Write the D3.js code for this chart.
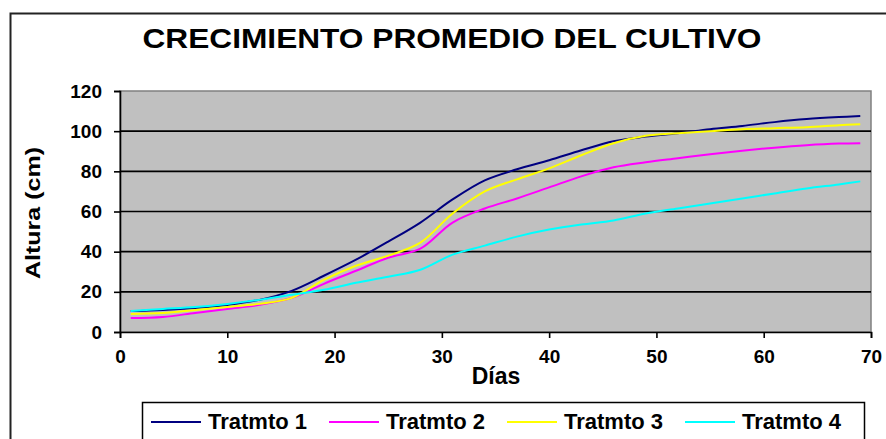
<!DOCTYPE html>
<html>
<head>
<meta charset="utf-8">
<script src="https://cdn.jsdelivr.net/npm/d3@7"></script>
<style>
  body { margin: 0; background: #fff; }
  text { font-family: Arial, "Liberation Sans", sans-serif; font-weight: bold; fill: #000; }
</style>
</head>
<body>
<div id="chart"></div>
<script>
// chart data
var dias = [1, 4, 7, 10, 13, 16, 19, 22, 25, 28, 31, 34, 37, 40, 43, 46, 49, 52, 55, 58, 61, 64, 67, 69];
var tratmto1 = [10.4, 11, 12, 13.5, 16, 20.5, 28, 36, 45, 54.5, 66, 75.5, 81, 85.5, 90.5, 95, 97.3, 99, 101, 102.6, 104.5, 106, 107, 107.5];
var tratmto2 = [7, 7.5, 9.5, 11.5, 13.5, 17, 24, 30.5, 37, 41.5, 54.5, 61.5, 66.5, 72, 77.5, 82, 84.5, 86.5, 88.5, 90.3, 91.8, 93, 93.8, 94];
var tratmto3 = [9, 9.5, 11, 12.5, 14, 17, 26, 33, 38, 44.5, 59, 70, 76, 81.5, 88, 94, 97.7, 99, 100, 101, 101.5, 102, 103, 103.5];
var tratmto4 = [10.5, 11.5, 12.5, 14, 16, 18.5, 21, 24.5, 27.5, 31, 38.5, 43, 47.5, 51, 53.5, 55.5, 59, 61.5, 64, 66.5, 69, 71.5, 73.5, 75];
var seriesNames = ["Tratmto 1", "Tratmto 2", "Tratmto 3", "Tratmto 4"];
var xTicks = [0, 10, 20, 30, 40, 50, 60, 70];
var yTicks = [0, 20, 40, 60, 80, 100, 120];

var colors = ["#000080", "#ff00ff", "#ffff00", "#00ffff"];

// svg params
var svgWidth = 886;
var svgHeight = 439;

// plot area
var plot = { left: 120, top: 91, right: 871, bottom: 332 };

var svg = d3.select("#chart")
  .append("svg")
  .attr("width", svgWidth)
  .attr("height", svgHeight);

// outer frame (runs off right and bottom)
svg.append("rect")
  .attr("x", 10.5).attr("y", 13.5)
  .attr("width", 900).attr("height", 500)
  .attr("fill", "none")
  .attr("stroke", "#222")
  .attr("stroke-width", 2);

// scales
var x = d3.scaleLinear().domain([0, 70]).range([plot.left, plot.right]);
var y = d3.scaleLinear().domain([0, 120]).range([plot.bottom, plot.top]);

// plot background
svg.append("rect")
  .attr("x", plot.left).attr("y", plot.top)
  .attr("width", plot.right - plot.left).attr("height", plot.bottom - plot.top)
  .attr("fill", "#c0c0c0")
  .attr("stroke", "#808080")
  .attr("stroke-width", 1.5);

// gridlines
svg.append("g")
  .selectAll("line")
  .data(yTicks.filter(d => d > 0 && d < 120))
  .enter()
  .append("line")
  .attr("x1", plot.left).attr("x2", plot.right)
  .attr("y1", d => y(d)).attr("y2", d => y(d))
  .attr("stroke", "#000")
  .attr("stroke-width", 1.6);

// axes
var bottomAxis = d3.axisBottom(x).tickValues(xTicks).tickSize(6).tickPadding(12);
var leftAxis = d3.axisLeft(y).tickValues(yTicks).tickSize(6).tickPadding(12);

var gx = svg.append("g")
  .attr("transform", `translate(0, ${plot.bottom})`)
  .call(bottomAxis);
var gy = svg.append("g")
  .attr("transform", `translate(${plot.left}, 0)`)
  .call(leftAxis);

[gx, gy].forEach(function(g){
  g.select(".domain").attr("stroke", "#000").attr("stroke-width", 1.6);
  g.selectAll(".tick line").attr("stroke", "#000").attr("stroke-width", 1.6);
  g.selectAll(".tick text").style("font-size", "19px").attr("fill", "#000");
});
gx.selectAll(".tick text").attr("dy", "0.71em");

// lines
var allSeries = [tratmto1, tratmto2, tratmto3, tratmto4];
var line = d3.line()
  .x((d, i) => x(dias[i]))
  .y(d => y(d))
  .curve(d3.curveCatmullRom);

svg.append("g")
  .selectAll("path")
  .data(allSeries)
  .enter()
  .append("path")
  .attr("d", line)
  .attr("fill", "none")
  .attr("stroke", (d, i) => colors[i])
  .attr("stroke-width", 2);

// title
svg.append("text")
  .attr("x", 452).attr("y", 48)
  .attr("text-anchor", "middle")
  .attr("textLength", 619)
  .attr("lengthAdjust", "spacingAndGlyphs")
  .style("font-size", "28px")
  .text("CRECIMIENTO PROMEDIO DEL CULTIVO");

// axis titles
svg.append("text")
  .attr("transform", "translate(40, 213) rotate(-90)")
  .attr("text-anchor", "middle")
  .attr("textLength", 132)
  .attr("lengthAdjust", "spacingAndGlyphs")
  .style("font-size", "21px")
  .text("Altura (cm)");

svg.append("text")
  .attr("x", 496).attr("y", 384)
  .attr("text-anchor", "middle")
  .style("font-size", "23px")
  .text("Días");

// legend
var legend = svg.append("g");
legend.append("rect")
  .attr("x", 142.5).attr("y", 402.5)
  .attr("width", 722).attr("height", 60)
  .attr("fill", "#fff")
  .attr("stroke", "#000")
  .attr("stroke-width", 1.5);

var legendX = [151, 329, 507, 685];
var items = legend.selectAll(".item")
  .data(seriesNames)
  .enter()
  .append("g")
  .attr("transform", (d, i) => `translate(${legendX[i]}, 422)`);

items.append("line")
  .attr("x1", 0).attr("x2", 50)
  .attr("stroke", (d, i) => colors[i])
  .attr("stroke-width", 2);

items.append("text")
  .attr("x", 57).attr("y", 7)
  .style("font-size", "22px")
  .text(d => d);
</script>
</body>
</html>
